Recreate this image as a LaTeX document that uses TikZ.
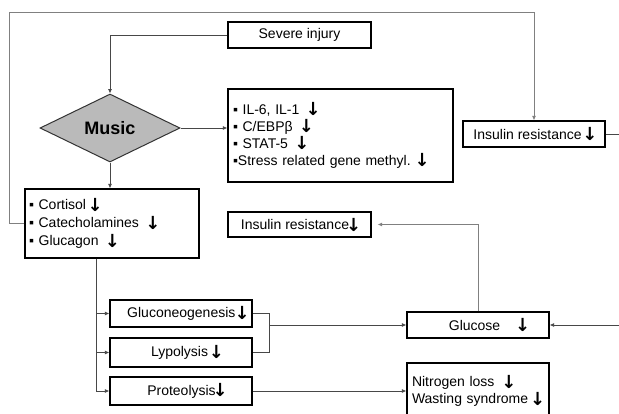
\documentclass[tikz,border=0pt]{standalone}
\usepackage{fontspec}
\setmainfont{Liberation Sans}
\newfontfamily\arrowfont{DejaVu Sans}
\usetikzlibrary{shapes.geometric,arrows.meta}
\newcommand{\dn}{\makebox[9pt]{\raisebox{-1.5pt}{\arrowfont\bfseries\fontsize{18}{17}\selectfont ↓}}}
\newcommand{\bul}{▪}
\begin{document}
\begin{tikzpicture}[x=1pt,y=-1pt,
  font=\fontsize{14}{17}\selectfont,
  box/.style={draw=black, line width=1.2pt, inner sep=0pt, align=center},
  conn/.style={draw=black!72, line width=0.8pt},
  frameline/.style={draw=black!50, line width=0.9pt},
  arr/.style={-{Latex[length=4.5pt,width=4pt]}}]
\clip (0,0) rectangle (619,413);
\fill[white] (0,0) rectangle (619,413);

% nodes
\node[box, minimum width=143pt, minimum height=26pt] (severe) at (299.5,35) {Severe injury};
\node[diamond, draw=black!80, fill=black!27, line width=1pt, minimum width=140pt,
  minimum height=68pt, inner sep=0pt, font=\fontsize{18}{20}\selectfont\bfseries] (music) at (110,128) {Music};
\node[box, minimum width=225pt, minimum height=93pt, text width=215pt, align=left] (list) at (340.5,135.5)
  {\bul\ IL-6, IL-1 \ \dn\\ \bul\ C/EBPβ \ \dn\\ \bul\ STAT-5 \ \dn\\ \bul Stress related gene methyl. \dn};
\node[box, minimum width=142pt, minimum height=26pt] (ins1) at (534,134) {Insulin resistance \dn};
\node[box, minimum width=174pt, minimum height=69pt, text width=166pt, align=left,
  font=\fontsize{14}{18}\selectfont] (cort) at (112,223.5)
  {\bul\ Cortisol \dn\\ \bul\ Catecholamines \ \dn\\ \bul\ Glucagon \ \dn};
\node[box, minimum width=143pt, minimum height=25pt] (ins2) at (299.5,224.5) {Insulin resistance\dn};
\node[box, minimum width=142pt, minimum height=27pt] (gluco) at (181,313.5) {\hspace*{12pt}Gluconeogenesis\,\dn};
\node[box, minimum width=142pt, minimum height=29pt] (lypo) at (181,352.5) {\hspace*{10pt}Lypolysis \dn};
\node[box, minimum width=142pt, minimum height=28pt] (proteo) at (181,391) {\hspace*{10pt}Proteolysis\dn};
\node[box, minimum width=142pt, minimum height=26pt] (glucose) at (478,325) {\hspace*{20pt}Glucose \quad\dn};
\node[box, minimum width=142pt, minimum height=56pt, text width=140pt, align=left,
  font=\fontsize{14}{17}\selectfont] (nitro) at (478,391)
  {\hspace*{4pt}Nitrogen loss\hspace{10pt}\dn\\ \hspace*{4pt}Wasting syndrome\hspace{5pt}\dn};

% coordinates
\coordinate (fl) at (9,12);
\coordinate (fr) at (534,12);
\coordinate (r1) at (625,134);
\coordinate (r2) at (625,325);
\coordinate (t) at (96,0);
\coordinate (bx) at (269,0);

% connectors
\draw[conn,arr] (severe.west) -| (music.north);
\draw[conn,arr] (music.east) -- (list.west |- music.east);
\draw[conn,arr] (music.south) -- (music.south |- cort.north);
\draw[frameline,arr] (cort.west) -| (fl) -- (fr) -- (ins1.north);
\draw[conn] (ins1.east) -- (r1);
\draw[conn] (t |- cort.south) -- (t |- proteo.west);
\draw[conn,arr] (t |- gluco.west) -- (gluco.west);
\draw[conn,arr] (t |- lypo.west) -- (lypo.west);
\draw[conn,arr] (t |- proteo.west) -- (proteo.west);
\draw[conn] (gluco.east) -- (bx |- gluco.east) -- (bx |- lypo.east) -- (lypo.east);
\draw[conn,arr] (bx |- glucose.west) -- (glucose.west);
\draw[conn,arr] (proteo.east) -- (nitro.west |- proteo.east);
\draw[frameline,arr,shorten >=6pt] (glucose.north) |- (ins2.east);
\draw[conn,arr] (r2) -- (glucose.east);
\end{tikzpicture}
\end{document}
